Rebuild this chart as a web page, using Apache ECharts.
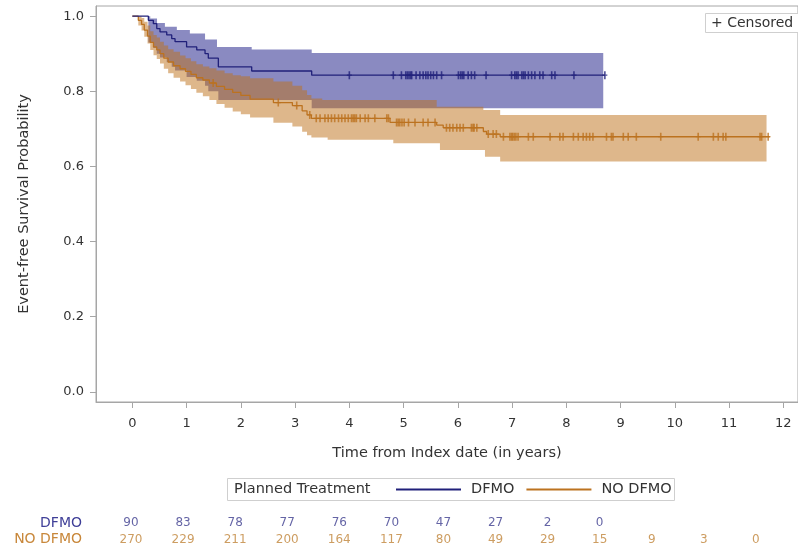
<!DOCTYPE html>
<html><head><meta charset="utf-8">
<script src="https://cdn.jsdelivr.net/npm/echarts@6/dist/echarts.min.js"></script>
<style>html,body{margin:0;padding:0;background:#fff}#c{width:798px;height:548px}</style>
</head><body><div id="c"></div>
<script>
// ---- Data ----
const xTicks = [0,1,2,3,4,5,6,7,8,9,10,11,12];
const yTicks = [0,0.2,0.4,0.6,0.8,1.0];

const dfmoT = [0, 0.295, 0.387, 0.45, 0.51, 0.634, 0.726, 0.787, 1.0, 1.187, 1.34, 1.40, 1.585, 2.2, 3.306, 8.71];
const dfmoS = [1.0, 0.989, 0.98, 0.967, 0.958, 0.95, 0.94, 0.932, 0.918, 0.91, 0.90, 0.888, 0.865, 0.854, 0.843, 0.843];
const dfmoUpT = [0, 0.33, 0.455, 0.60, 0.82, 1.06, 1.34, 1.56, 2.2, 3.306, 8.68];
const dfmoUpV = [1.0, 0.994, 0.982, 0.972, 0.963, 0.954, 0.938, 0.918, 0.911, 0.902, 0.902];
const dfmoLoT = [0, 0.295, 0.387, 0.45, 0.51, 0.634, 0.726, 0.787, 1.0, 1.187, 1.34, 1.40, 1.585, 3.306, 8.68];
const dfmoLoV = [1.0, 0.93, 0.915, 0.90, 0.89, 0.877, 0.865, 0.855, 0.838, 0.828, 0.815, 0.80, 0.777, 0.755, 0.755];
const dfmoCens = [4.0, 4.81, 4.96, 5.04, 5.07, 5.10, 5.13, 5.15, 5.23, 5.30, 5.36, 5.41, 5.45, 5.50, 5.55, 5.61, 5.70,
  6.01, 6.05, 6.08, 6.11, 6.19, 6.25, 6.31, 6.52, 6.99, 7.05, 7.08, 7.11, 7.18, 7.21, 7.24, 7.30, 7.36, 7.42, 7.51, 7.57,
  7.73, 7.79, 8.14, 8.71];

const noT = [0, 0.11, 0.17, 0.22, 0.28, 0.33, 0.39, 0.45, 0.51, 0.58, 0.66, 0.76, 0.88, 0.98, 1.08, 1.18, 1.3, 1.42, 1.55, 1.7,
  1.85, 2.0, 2.17, 2.6, 2.95, 3.13, 3.22, 3.3, 4.75, 5.61, 5.73, 6.47, 6.53, 6.78, 11.75];
const noS = [1.0, 0.989, 0.978, 0.963, 0.947, 0.93, 0.918, 0.91, 0.9, 0.888, 0.878, 0.868, 0.86, 0.853, 0.845, 0.836, 0.83, 0.822, 0.813, 0.805,
  0.797, 0.789, 0.779, 0.77, 0.762, 0.748, 0.737, 0.728, 0.717, 0.71, 0.703, 0.693, 0.686, 0.679, 0.679];
const noUpT = [0, 0.17, 0.22, 0.28, 0.33, 0.39, 0.45, 0.51, 0.58, 0.66, 0.76, 0.88, 0.98, 1.08, 1.18, 1.3, 1.42, 1.55, 1.7, 1.85,
  2.0, 2.17, 2.6, 2.95, 3.13, 3.22, 3.3, 3.5, 5.61, 6.47, 6.78, 11.69];
const noUpV = [1.0, 0.995, 0.985, 0.975, 0.96, 0.95, 0.943, 0.932, 0.922, 0.912, 0.905, 0.895, 0.888, 0.88, 0.872, 0.866, 0.861, 0.855, 0.848, 0.843,
  0.84, 0.835, 0.826, 0.815, 0.803, 0.79, 0.781, 0.777, 0.759, 0.75, 0.737, 0.737];
const noLoT = [0, 0.11, 0.17, 0.22, 0.28, 0.33, 0.39, 0.45, 0.51, 0.58, 0.66, 0.76, 0.88, 0.98, 1.08, 1.18, 1.3, 1.42, 1.55, 1.7,
  1.85, 2.0, 2.17, 2.6, 2.95, 3.13, 3.22, 3.3, 3.6, 4.81, 5.67, 6.5, 6.78, 11.69];
const noLoV = [1.0, 0.975, 0.962, 0.945, 0.927, 0.91, 0.896, 0.886, 0.874, 0.86, 0.848, 0.836, 0.826, 0.816, 0.806, 0.796, 0.787, 0.777, 0.766, 0.756,
  0.746, 0.739, 0.73, 0.716, 0.706, 0.692, 0.683, 0.677, 0.671, 0.662, 0.644, 0.626, 0.613, 0.613];
const noCens = [1.49, 2.69, 3.03, 3.27, 3.39, 3.46, 3.55, 3.61, 3.67, 3.73, 3.80, 3.86, 3.92, 3.98, 4.04, 4.07, 4.10, 4.13, 4.20,
  4.29, 4.35, 4.47, 4.69, 4.72, 4.87, 4.90, 4.93, 4.97, 5.01, 5.09, 5.21, 5.36, 5.45, 5.58, 5.79, 5.85, 5.91, 5.98, 6.04, 6.10,
  6.25, 6.28, 6.30, 6.35, 6.56, 6.65, 6.71, 6.84, 6.96, 6.99, 7.01, 7.04, 7.07, 7.11, 7.30, 7.39, 7.70, 7.88, 7.94, 8.13, 8.22,
  8.31, 8.37, 8.43, 8.49, 8.74, 8.83, 8.86, 9.05, 9.14, 9.29, 9.74, 10.43, 10.71, 10.80, 10.89, 10.94, 11.57, 11.60, 11.72];

const riskGroups = ['DFMO', 'NO DFMO'];
const riskTimes = [0,1,2,3,4,5,6,7,8,9,10,11,12];
const dfmoRisk = [90, 83, 78, 77, 76, 70, 47, 27, 2, 0];
const noRisk = [270, 229, 211, 200, 164, 117, 80, 49, 29, 15, 9, 3, 0];

// ---- Styling ----
const FONT = 'DejaVu Sans';
const C_DFMO = '#20207a', C_NO = '#bc721f';
const BAND_DFMO = 'rgba(22,22,132,0.5)', BAND_NO = 'rgba(190,112,24,0.5)';
const AXIS = '#a6a6a6';
const PLUS = 'path://M3.4,0H6.6V6H10V8H6.6V14H3.4V8H0V6H3.4Z';

function stepAt(ts, vs, t){ let v = vs[0]; for (let i=0;i<ts.length;i++){ if (ts[i] <= t) v = vs[i]; } return v; }
function zip(a,b){ return a.map((x,i)=>[x,b[i]]); }
function stepPts(ts, vs){ const p=[]; for(let i=0;i<ts.length;i++){ p.push([ts[i],vs[i]]); if(i<ts.length-1) p.push([ts[i+1],vs[i]]); } return p; }
function band(name, upT, upV, loT, loV, color, z){
  return { type:'custom', name, silent:true, z, xAxisIndex:0, yAxisIndex:0, data:[[0,0]],
    renderItem:(params, api)=>{
      const up = stepPts(upT, upV), lo = stepPts(loT, loV).reverse();
      const pts = up.concat(lo).map(p=>api.coord(p));
      return { type:'polygon', shape:{points:pts}, style:{fill:color, stroke:null} };
    } };
}

const chart = echarts.init(document.getElementById('c'), null, {renderer:'canvas'});
chart.setOption({
  backgroundColor:'#fff',
  animation:false,
  textStyle:{fontFamily:FONT},
  grid:[
    {left:96, top:6, right:-3, bottom:146, show:true, borderColor:AXIS, borderWidth:1, backgroundColor:'transparent'},
    {left:96, right:0, top:515, height:37.5, show:false}
  ],
  xAxis:[
    {type:'value', gridIndex:0, min:-0.67, max:12.27,
     axisLine:{show:true, onZero:false, lineStyle:{color:AXIS}},
     axisTick:{show:true, length:6, lineStyle:{color:AXIS}, customValues:xTicks},
     axisLabel:{fontSize:13, color:'#333', margin:15, customValues:xTicks},
     splitLine:{show:false},
     name:'Time from Index date (in years)', nameLocation:'middle', nameGap:44,
     nameTextStyle:{fontSize:14.5, color:'#333'}},
    {type:'value', gridIndex:1, min:-0.672, max:12.808, show:false}
  ],
  yAxis:[
    {type:'value', gridIndex:0, min:-0.027, max:1.027,
     axisLine:{show:true, onZero:false, lineStyle:{color:AXIS}},
     axisTick:{show:true, length:6, lineStyle:{color:AXIS}, customValues:yTicks},
     axisLabel:{fontSize:13, color:'#333', margin:12, customValues:yTicks, formatter:v=>Number(v).toFixed(1)},
     splitLine:{show:false},
     name:'Event-free Survival Probability', nameLocation:'middle', nameGap:64,
     nameTextStyle:{fontSize:14.5, color:'#333'}},
    {type:'category', gridIndex:1, data:['NO DFMO','DFMO'],
     axisLine:{show:false}, axisTick:{show:false}, splitLine:{show:false},
     axisLabel:{interval:0, fontSize:14, margin:14, color:(v)=> v==='DFMO' ? '#3f3f98' : '#c8873a'}}
  ],
  legend:{left:395, top:482, padding:0, itemWidth:65, itemHeight:14, itemGap:11,
    itemStyle:{opacity:0},
    data:['DFMO','NO DFMO'], textStyle:{fontSize:14.5, color:'#333', padding:[0,0,0,5]}, selectedMode:false},
  graphic:[
    {type:'rect', shape:{x:227.5, y:478.5, width:447, height:22}, style:{fill:'none', stroke:'#cfcfcf', lineWidth:1}},
    {type:'text', x:234, y:489.5, style:{text:'Planned Treatment', font:'14.5px "DejaVu Sans"', fill:'#333', textVerticalAlign:'middle'}},
    {type:'rect', shape:{x:705.5, y:13.5, width:100, height:19}, style:{fill:'#fff', stroke:'#cfcfcf', lineWidth:1}, z:50},
    {type:'text', x:711, y:23.5, style:{text:'+ Censored', font:'14px "DejaVu Sans"', fill:'#333', textVerticalAlign:'middle'}, z:51}
  ],
  series:[
    band('DFMO band', dfmoUpT, dfmoUpV, dfmoLoT, dfmoLoV, BAND_DFMO, 1),
    band('NO DFMO band', noUpT, noUpV, noLoT, noLoV, BAND_NO, 2),
    {type:'line', name:'NO DFMO', step:'end', data:zip(noT,noS), symbol:'none', z:3,
     lineStyle:{color:C_NO, width:1.3}, itemStyle:{color:C_NO}},
    {type:'line', name:'DFMO', step:'end', data:zip(dfmoT,dfmoS), symbol:'none', z:4,
     lineStyle:{color:C_DFMO, width:1.3}, itemStyle:{color:C_DFMO}},
    {type:'scatter', name:'NO DFMO censored', z:5, symbol:PLUS, symbolSize:[5,8],
     itemStyle:{color:C_NO}, data:noCens.map(t=>[t, stepAt(noT,noS,t)])},
    {type:'scatter', name:'DFMO censored', z:6, symbol:PLUS, symbolSize:[5,8],
     itemStyle:{color:C_DFMO}, data:dfmoCens.map(t=>[t, stepAt(dfmoT,dfmoS,t)])},
    {type:'scatter', name:'DFMO at risk', xAxisIndex:1, yAxisIndex:1, symbolSize:0, silent:true,
     data:dfmoRisk.map((n,i)=>[riskTimes[i], riskGroups[0], n]),
     label:{show:true, position:'inside', formatter:p=>String(p.value[2]), fontSize:12, color:'#3d3d8f'}},
    {type:'scatter', name:'NO DFMO at risk', xAxisIndex:1, yAxisIndex:1, symbolSize:0, silent:true,
     data:noRisk.map((n,i)=>[riskTimes[i], riskGroups[1], n]),
     label:{show:true, position:'inside', formatter:p=>String(p.value[2]), fontSize:12, color:'#c0853a'}}
  ]
});
</script></body></html>
